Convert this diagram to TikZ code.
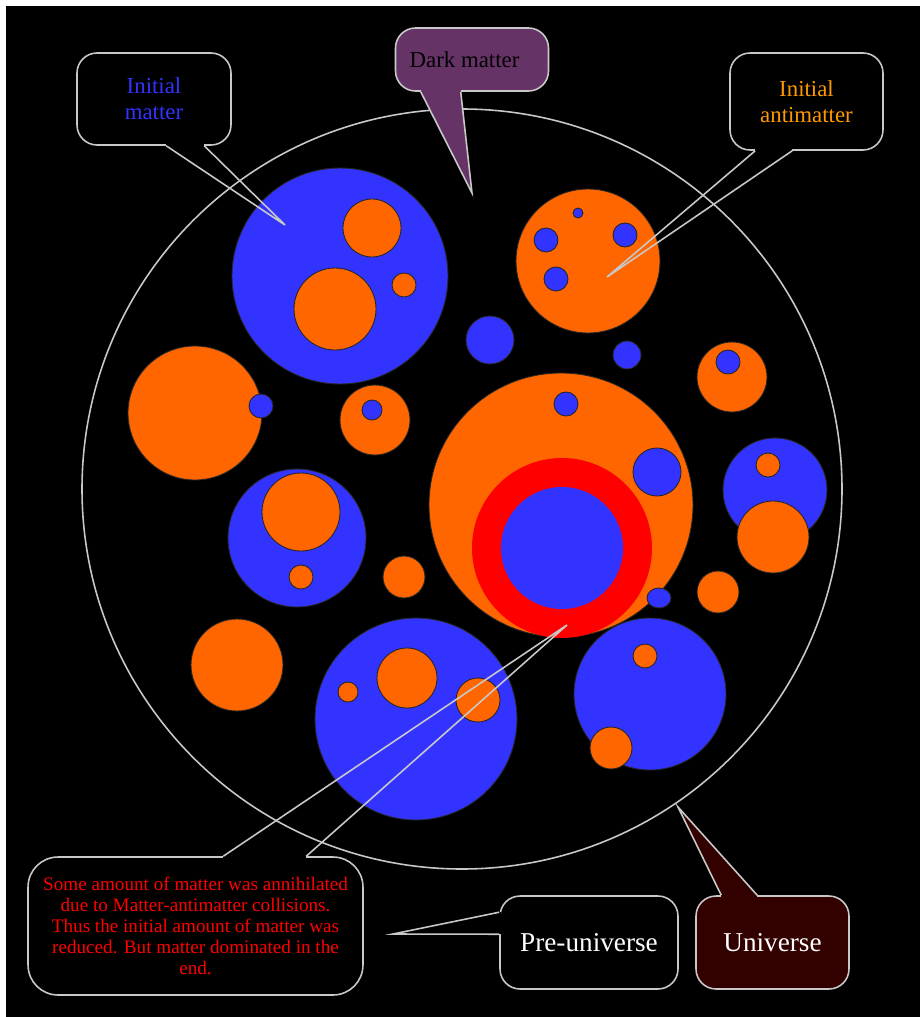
\documentclass[tikz,border=0pt]{standalone}
\usepackage{fontspec}
\setmainfont{Liberation Serif}
\usetikzlibrary{calc}
\definecolor{mBlue}{HTML}{3333FF}
\definecolor{aOrange}{HTML}{FF6600}
\definecolor{aGold}{HTML}{FF9900}
\definecolor{annRed}{HTML}{FF0000}
\definecolor{dmPurple}{HTML}{663366}
\definecolor{uniMaroon}{HTML}{330000}
\definecolor{rimGrey}{HTML}{C8C8C8}
\tikzset{
  matter/.style   = {fill=mBlue,   draw=black!85, line width=0.5pt},
  anti/.style     = {fill=aOrange, draw=black!85, line width=0.5pt},
  rim/.style      = {draw=rimGrey, line width=0.9pt},
  bubble/.style   = {rim, rounded corners=0.4cm, align=center, inner sep=0pt,
                     font=\fontsize{13}{15}\selectfont},
  bigtext/.style  = {font=\fontsize{15.5}{18}\selectfont, text=white},
}
% #1,#2 base points, #3 tip, #4 inward step, #5 box fill, #6 tail fill
\newcommand{\bubbletail}[6]{%
  \fill[#5] ($(#1)-#4$) -- ($(#1)+#4$) -- ($(#2)+#4$) -- ($(#2)-#4$) -- cycle;
  \path[fill=#6] (#1) -- (#3) -- (#2) -- cycle;
  \draw[rim, line join=miter] (#1) -- (#3) -- (#2);
}

\begin{document}
\begin{tikzpicture}[x=0.02cm,y=-0.02cm]
  \useasboundingbox (0,0) rectangle (920,1017);
  \fill[white] (0,0) rectangle (920,1017);
  \fill[black] (6,6) rectangle (920,1017);

  % matter clumps with antimatter inside
  \draw[matter] (340,276) circle[radius=108];
  \foreach \x/\y/\r in {372/228/29, 335/309/41, 404/285/12}
    \draw[anti] (\x,\y) circle[radius=\r];
  \draw[matter] (297,538) circle[radius=69];
  \foreach \x/\y/\r in {301/512/39, 301/577/12}
    \draw[anti] (\x,\y) circle[radius=\r];
  \draw[matter] (775,490) circle[radius=52];
  \foreach \x/\y/\r in {768/465/12, 773/537/36}
    \draw[anti] (\x,\y) circle[radius=\r];
  \draw[matter] (416,719) circle[radius=101];
  \foreach \x/\y/\r in {407/678/30, 348/692/10, 478/700/22}
    \draw[anti] (\x,\y) circle[radius=\r];
  \draw[matter] (650,694) circle[radius=76];
  \foreach \x/\y/\r in {645/656/12, 611/748/21}
    \draw[anti] (\x,\y) circle[radius=\r];

  % antimatter clumps with matter inside
  \draw[anti] (588,261) circle[radius=72];
  \foreach \x/\y/\r in {546/240/12, 578/213/5, 625/235/12, 556/279/12}
    \draw[matter] (\x,\y) circle[radius=\r];
  \draw[anti] (732,377) circle[radius=35];
  \draw[matter] (728,362) circle[radius=12];
  \draw[anti] (195,413) circle[radius=67];
  \draw[matter] (261,406) circle[radius=12];
  \draw[anti] (375,420) circle[radius=35];
  \draw[matter] (372,410) circle[radius=10];

  % loose clumps
  \foreach \x/\y/\r in {490/340/24, 627/355/14}
    \draw[matter] (\x,\y) circle[radius=\r];
  \foreach \x/\y/\r in {404/577/21, 718/592/21, 237/665/46}
    \draw[anti] (\x,\y) circle[radius=\r];

  % the annihilation zone
  \draw[anti] (561,505) circle[radius=132];
  \fill[annRed] (562,548) circle[radius=90];
  \fill[mBlue] (562,548) circle[radius=61];
  \foreach \x/\y/\r in {566/404/12, 657/472/24}
    \draw[matter] (\x,\y) circle[radius=\r];
  \draw[matter] (659,598) ellipse[x radius=12, y radius=10];

  \draw[rim] (462,489) circle[radius=380];

  % callouts
  \node[bubble, fill=black, text=mBlue, minimum width=3.08cm, minimum height=1.84cm]
    (imat) at (154,99) {Initial\\matter};
  \node[bubble, fill=dmPurple, text=black, minimum width=3.06cm, minimum height=1.26cm]
    (dark) at (472,59.5) {Dark matter\hspace{0.3cm}};
  \node[bubble, fill=black, text=aGold, minimum width=3.06cm, minimum height=1.94cm]
    (antim) at (806.5,101.5) {Initial\\antimatter};
  \node[bubble, fill=black, text=annRed, rounded corners=0.6cm,
        font=\fontsize{10.9}{12}\selectfont, minimum width=6.7cm, minimum height=2.76cm]
    (annih) at (195.5,926) {Some amount of matter was annihilated\\
      due to Matter-antimatter collisions.\\ Thus the initial amount of matter was\\
      reduced. But matter dominated in the\\ end.};
  \node[bubble, bigtext, fill=black, minimum width=3.56cm, minimum height=1.86cm]
    (preu) at (589,942.5) {Pre-universe};
  \node[bubble, bigtext, fill=uniMaroon, minimum width=3.06cm, minimum height=1.86cm]
    (univ) at (772.5,942.5) {Universe};

  \coordinate (imatA) at ($(imat.south west)+(90,0)$);
  \coordinate (imatB) at ($(imat.south west)+(128,0)$);
  \coordinate (imatTip) at (285,225);
  \coordinate (darkA) at ($(dark.south west)+(26,0)$);
  \coordinate (darkB) at ($(dark.south west)+(66,0)$);
  \coordinate (darkTip) at (472,193);
  \coordinate (antimA) at ($(antim.south west)+(26,0)$);
  \coordinate (antimB) at ($(antim.south west)+(63,0)$);
  \coordinate (antimTip) at (607,277);
  \coordinate (annihA) at ($(annih.north west)+(196,0)$);
  \coordinate (annihB) at ($(annih.north west)+(279,0)$);
  \coordinate (annihTip) at (567,625);
  \coordinate (preuA) at ($(preu.north west)+(0,17)$);
  \coordinate (preuB) at ($(preu.north west)+(0,39)$);
  \coordinate (preuTip) at (393,934);
  \coordinate (univA) at ($(univ.north west)+(26,0)$);
  \coordinate (univB) at ($(univ.north west)+(62,0)$);
  \coordinate (univTip) at (678,807);

  \bubbletail{imatA}{imatB}{imatTip}{(0,-2)}{black}{none}
  \bubbletail{darkA}{darkB}{darkTip}{(0,-2)}{dmPurple}{dmPurple}
  \bubbletail{antimA}{antimB}{antimTip}{(0,-2)}{black}{none}
  \bubbletail{annihA}{annihB}{annihTip}{(0,2)}{black}{none}
  \bubbletail{preuA}{preuB}{preuTip}{(2,0)}{black}{none}
  \bubbletail{univA}{univB}{univTip}{(0,2)}{uniMaroon}{uniMaroon}
\end{tikzpicture}
\end{document}
